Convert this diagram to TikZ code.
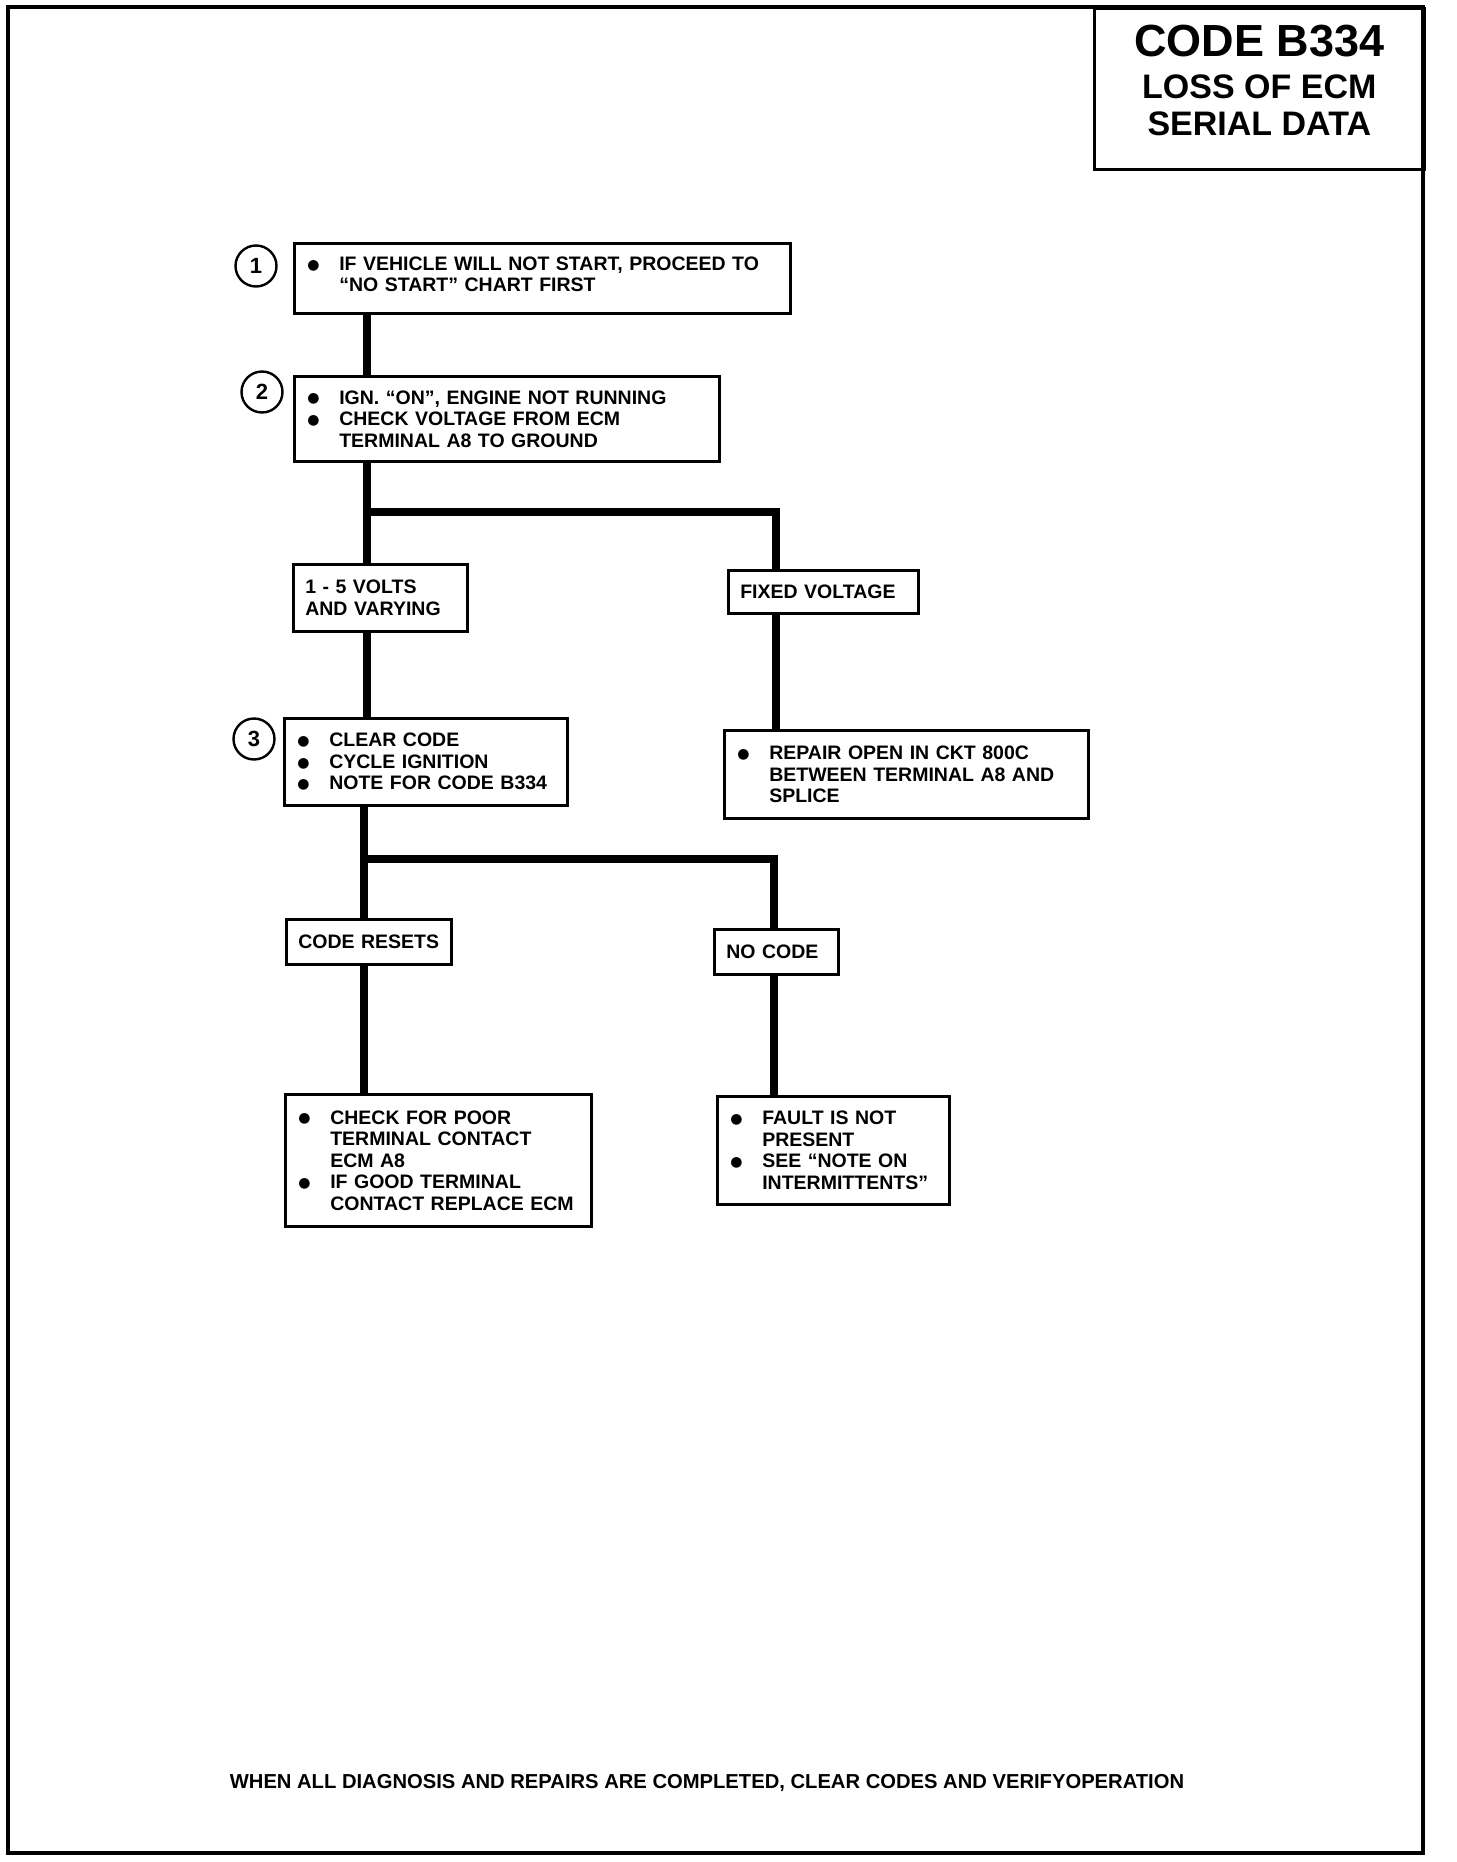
\documentclass[tikz,border=0pt]{standalone}
\usepackage{fontspec}
\setmainfont{Liberation Sans}
\newfontfamily\symfont{DejaVu Sans}
\newcommand{\bul}[1]{\mbox{\makebox[33pt][l]{\hspace*{1pt}\raisebox{1.2pt}{\symfont\fontsize{14}{14}\selectfont ●}}#1}}
\newcommand{\ind}[1]{\mbox{\hspace*{33pt}#1}}
\begin{document}
\begin{tikzpicture}[x=1pt,y=-1pt,
  box/.style={draw,line width=2.6pt,anchor=north west,inner xsep=12pt,inner ysep=0pt,
    align=left,font=\bfseries\fontsize{19.5}{21.5}\selectfont},
  num/.style={draw,circle,line width=2.4pt,minimum size=41pt,inner sep=0pt,
    font=\bfseries\fontsize{22}{22}\selectfont},
  wire/.style={line width=8pt}]
\useasboundingbox (0,0) rectangle (1456,1862);
\draw[line width=3.5pt] (8,7) rectangle (1423,1853);
% title block
\node[draw,line width=2.6pt,anchor=north west,minimum width=330pt,minimum height=161pt,
  inner sep=0pt] (title) at (1093,7) {};
\node[align=center,font=\bfseries\fontsize{34}{37}\selectfont] (titletext)
  at ([yshift=8pt]title.center)
  {{\fontsize{45}{45}\selectfont CODE B334}\\[5pt]LOSS OF ECM\\SERIAL DATA};
% boxes
\node[box,text width=472pt,minimum height=70pt] (start) at (293,242)
  {\bul{IF VEHICLE WILL NOT START, PROCEED TO}\\\ind{“NO START” CHART FIRST\rule[-8pt]{0pt}{8pt}}};
\node[box,text width=401pt,minimum height=85pt] (check8) at (293,375)
  {\bul{IGN. “ON”, ENGINE NOT RUNNING}\\\bul{CHECK VOLTAGE FROM ECM}\\\ind{TERMINAL A8 TO GROUND}};
\node[box,text width=150pt,minimum height=67pt] (volts) at (292,563)
  {\mbox{1 - 5 VOLTS}\\\mbox{AND VARYING}};
\node[box,text width=166pt,minimum height=43pt] (fixed) at (727,569)
  {\mbox{FIXED VOLTAGE}};
\node[box,text width=259pt,minimum height=87pt] (clear) at (283,717)
  {\bul{CLEAR CODE}\\\bul{CYCLE IGNITION}\\\bul{NOTE FOR CODE B334}};
\node[box,text width=340pt,minimum height=88pt] (repair) at (723,729)
  {\bul{REPAIR OPEN IN CKT 800C}\\\ind{BETWEEN TERMINAL A8 AND}\\\ind{SPLICE}};
\node[box,text width=141pt,minimum height=45pt] (resets) at (285,918)
  {\mbox{CODE RESETS}};
\node[box,text width=100pt,minimum height=45pt] (nocode) at (713,928)
  {\mbox{NO CODE}};
\node[box,text width=282pt,minimum height=132pt] (contact) at (284,1093)
  {\bul{CHECK FOR POOR}\\\ind{TERMINAL CONTACT}\\\ind{ECM A8}\\\bul{IF GOOD TERMINAL}\\\ind{CONTACT REPLACE ECM}};
\node[box,text width=208pt,minimum height=108pt] (fault) at (716,1095)
  {\bul{FAULT IS NOT}\\\ind{PRESENT}\\\bul{SEE “NOTE ON}\\\ind{INTERMITTENTS”}};
% step numbers
\node[num] (n1) at (256,266) {1};
\node[num] (n2) at (262,392) {2};
\node[num] (n3) at (254,739) {3};
% connectors
\coordinate (split1) at (367,512);
\coordinate (split1r) at (776,512);
\coordinate (split2) at (364,859);
\coordinate (split2r) at (774,859);
\draw[wire] (start.south -| split1) -- (check8.north -| split1);
\draw[wire] (check8.south -| split1) -- (split1) -- (split1r) -- (fixed.north -| split1r);
\draw[wire] (split1) -- (volts.north -| split1);
\draw[wire] (volts.south -| split1) -- (clear.north -| split1);
\draw[wire] (fixed.south -| split1r) -- (repair.north -| split1r);
\draw[wire] (clear.south -| split2) -- (split2) -- (split2r) -- (nocode.north -| split2r);
\draw[wire] (split2) -- (resets.north -| split2);
\draw[wire] (resets.south -| split2) -- (contact.north -| split2);
\draw[wire] (nocode.south -| split2r) -- (fault.north -| split2r);
% footer
\node[anchor=base,font=\bfseries\fontsize{20.2}{20.2}\selectfont] (footer) at (707,1788)
  {WHEN ALL DIAGNOSIS AND REPAIRS ARE COMPLETED, CLEAR CODES AND VERIFYOPERATION};
\end{tikzpicture}
\end{document}
